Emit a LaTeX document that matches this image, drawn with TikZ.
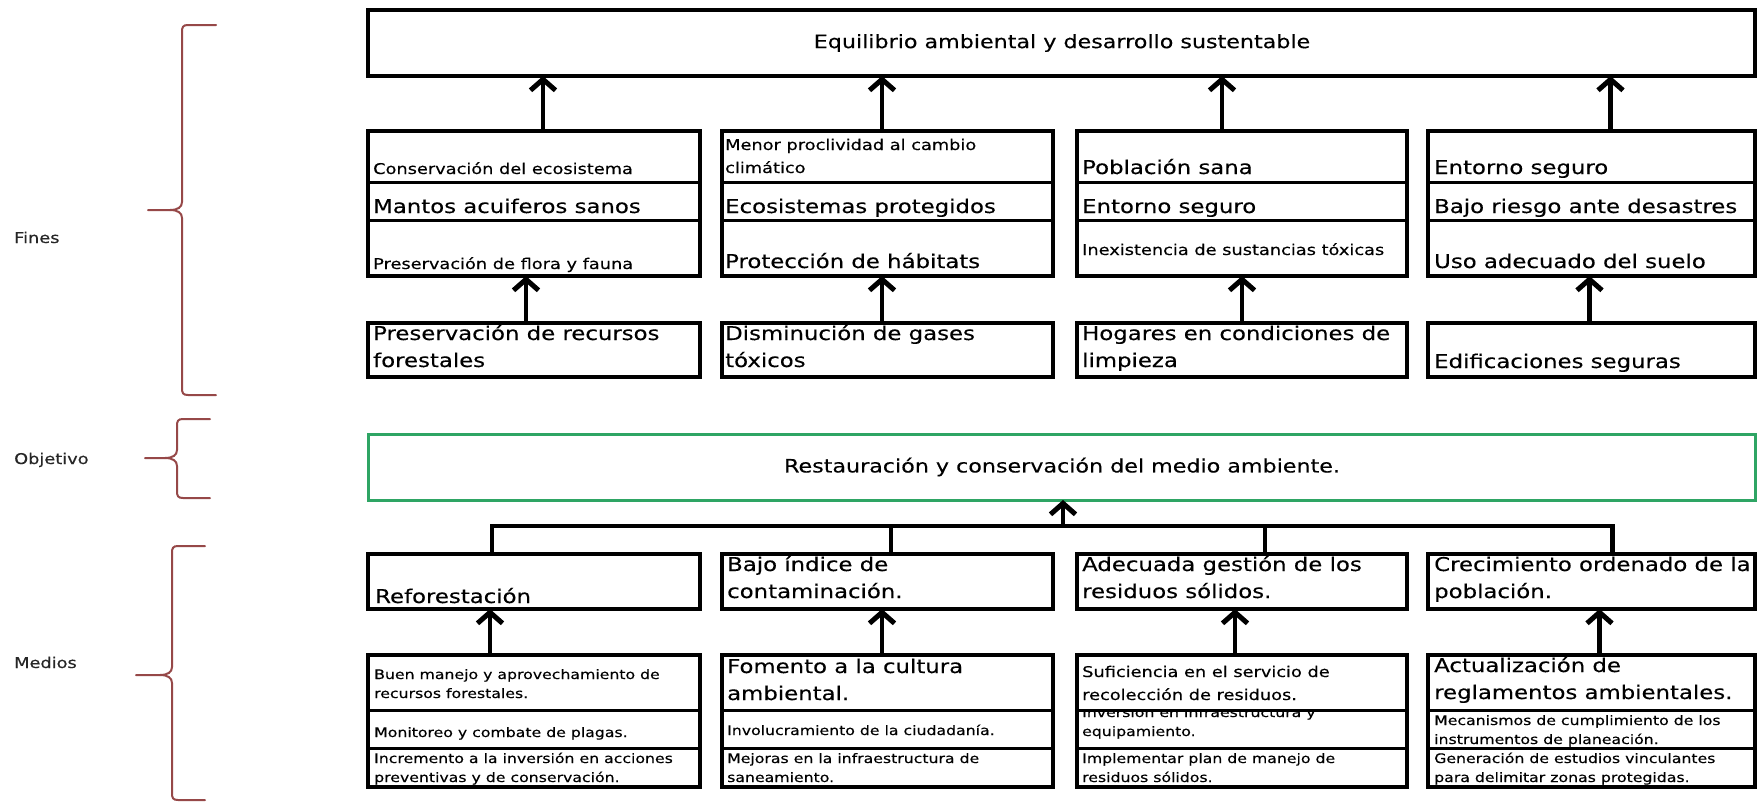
\documentclass[tikz,border=0pt]{standalone}
\usepackage{fontspec}
\setmainfont{DejaVu Sans}[FakeStretch=1.2,FakeBold=0.3]
\usetikzlibrary{arrows.meta}
\definecolor{brk}{RGB}{150,72,72}
\definecolor{objgreen}{RGB}{46,165,100}
\newcommand{\txL}{\fontsize{19}{27}\selectfont}
\newcommand{\txM}{\fontsize{14.8}{23}\selectfont}
\newcommand{\txS}{\fontsize{13.1}{19}\selectfont}
\newcommand{\txH}{\fontsize{18.5}{22}\selectfont}
\newcommand{\twoL}[2]{\vtop{\hbox{#1}\hbox{#2}}}
\newcommand{\curlyB}[6]{%
 \draw[brace] (#6,#2) -- (#1+6,#2) .. controls (#1+1,#2) and (#1,#2+2) .. (#1,#2+7) -- (#1,#4-8) .. controls (#1,#4-3) and (#1-4,#4) .. (#1-12,#4) -- (#5,#4);
 \draw[brace] (#1-12,#4) .. controls (#1-4,#4) and (#1,#4+3) .. (#1,#4+8) -- (#1,#3-7) .. controls (#1,#3-2) and (#1+1,#3) .. (#1+6,#3) -- (#6,#3);}
\tikzset{
 frame/.style={draw=black, line width=4.5pt, rectangle, inner sep=0pt, outer sep=0pt, anchor=north west},
 rowbox/.style={draw=black, line width=3pt, rectangle, inner sep=0pt, outer sep=0pt, anchor=north west},
 txt/.style={anchor=base west, inner sep=0pt},
 arr/.style={line width=4.5pt, -{Straight Barb[length=11pt,width=25pt,line width=5pt]}},
 conn/.style={line width=4.5pt, line join=miter},
 brace/.style={draw=brk, line width=2pt, line cap=round},
 lbl/.style={anchor=base west, inner sep=0pt, font=\fontsize{14.8}{18}\selectfont, text=black!85}
}
\begin{document}
\begin{tikzpicture}[x=1pt,y=-1pt]
\useasboundingbox (0,0) rectangle (1758,803);
\fill[white] (0,0) rectangle (1758,803);

% ---------- side labels and braces ----------
\node[lbl] (lfines) at (14,243) {Fines};
\node[lbl] (lobj) at (14,464) {Objetivo};
\node[lbl] (lmed) at (14,668) {Medios};
\curlyB{182}{25}{395}{210}{148}{216}
\curlyB{177}{419}{498}{458}{145}{210}
\curlyB{172}{546}{800}{675}{136}{205}

% ---------- texts ----------
\node[font=\txH, inner sep=0pt] (ttop) at (1062,43) {Equilibrio ambiental y desarrollo sustentable};
\node[font=\txH, inner sep=0pt] (tobj) at (1062,467) {Restauración y conservación del medio ambiente.};

% Fines, upper stacks
\node[txt, font=\txM] (t11) at (373,174) {Conservación del ecosistema};
\node[txt, font=\txL] (t12) at (373,213) {Mantos acuiferos sanos};
\node[txt, font=\txM] (t13) at (373,269) {Preservación de flora y fauna};
\node[txt, font=\txM] (t21) at (725,150) {\twoL{Menor proclividad al cambio}{climático}};
\node[txt, font=\txL] (t22) at (725,213) {Ecosistemas protegidos};
\node[txt, font=\txL] (t23) at (725,268) {Protección de hábitats};
\node[txt, font=\txL] (t31) at (1082,174) {Población sana};
\node[txt, font=\txL] (t32) at (1082,213) {Entorno seguro};
\node[txt, font=\txM] (t33) at (1082,255) {Inexistencia de sustancias tóxicas};
\node[txt, font=\txL] (t41) at (1434,174) {Entorno seguro};
\node[txt, font=\txL] (t42) at (1434,213) {Bajo riesgo ante desastres};
\node[txt, font=\txL] (t43) at (1434,268) {Uso adecuado del suelo};
% Fines, lower boxes
\node[txt, font=\txL] (t14) at (373,340) {\twoL{Preservación de recursos}{forestales}};
\node[txt, font=\txL] (t24) at (725,340) {\twoL{Disminución de gases}{tóxicos}};
\node[txt, font=\txL] (t34) at (1082,340) {\twoL{Hogares en condiciones de}{limpieza}};
\node[txt, font=\txL] (t44) at (1434,368) {Edificaciones seguras};

% Medios, upper boxes
\node[txt, font=\txL] (m10) at (375,603) {Reforestación};
\node[txt, font=\txL] (m20) at (727,571) {\twoL{Bajo índice de}{contaminación.}};
\node[txt, font=\txL] (m30) at (1082,571) {\twoL{Adecuada gestión de los}{residuos sólidos.}};
\node[txt, font=\txL] (m40) at (1434,571) {\twoL{Crecimiento ordenado de la}{población.}};
% Medios, lower stacks
\node[txt, font=\txS] (m11) at (374,679) {\twoL{Buen manejo y aprovechamiento de}{recursos forestales.}};
\node[txt, font=\txS] (m12) at (374,737) {Monitoreo y combate de plagas.};
\node[txt, font=\txS] (m13) at (374,763) {\twoL{Incremento a la inversión en acciones}{preventivas y de conservación.}};
\node[txt, font=\txL] (m21) at (727,673) {\twoL{Fomento a la cultura}{ambiental.}};
\node[txt, font=\txS] (m22) at (727,735) {Involucramiento de la ciudadanía.};
\node[txt, font=\txS] (m23) at (727,763) {\twoL{Mejoras en la infraestructura de}{saneamiento.}};
\node[txt, font=\txM] (m31) at (1082,677) {\twoL{Suficiencia en el servicio de}{recolección de residuos.}};
\begin{scope}
\clip (1077,712) rectangle (1407,748);
\node[txt, font=\txS] (m32) at (1082,717) {\twoL{Inversión en infraestructura y}{equipamiento.}};
\end{scope}
\node[txt, font=\txS] (m33) at (1082,763) {\twoL{Implementar plan de manejo de}{residuos sólidos.}};
\node[txt, font=\txL] (m41) at (1434,672) {\twoL{Actualización de}{reglamentos ambientales.}};
\node[txt, font=\txS] (m42) at (1434,725) {\twoL{Mecanismos de cumplimiento de los}{instrumentos de planeación.}};
\node[txt, font=\txS] (m43) at (1434,763) {\twoL{Generación de estudios vinculantes}{para delimitar zonas protegidas.}};

% ---------- boxes ----------
\node[frame, minimum width=1387pt, minimum height=66pt] (top) at (368,10) {};
\node[draw=objgreen, line width=3pt, rectangle, inner sep=0pt, outer sep=0pt, anchor=north west,
      minimum width=1387pt, minimum height=66pt] (obj) at (368,434) {};

\foreach \n/\x/\w in {1/368/332, 2/722/331, 3/1077/330, 4/1428/327}{
  % Fines upper stack
  \node[rowbox, minimum width=\w pt, minimum height=51pt] (fu\n a) at (\x,131) {};
  \node[rowbox, minimum width=\w pt, minimum height=38pt] (fu\n b) at (\x,182) {};
  \node[rowbox, minimum width=\w pt, minimum height=56pt] (fu\n c) at (\x,220) {};
  \node[frame, minimum width=\w pt, minimum height=145pt] (fu\n) at (\x,131) {};
  % Fines lower box
  \node[frame, minimum width=\w pt, minimum height=54pt] (fl\n) at (\x,323) {};
  % Medios upper box
  \node[frame, minimum width=\w pt, minimum height=55pt] (mu\n) at (\x,554) {};
  % Medios lower stack
  \node[rowbox, minimum width=\w pt, minimum height=55pt] (ml\n a) at (\x,655) {};
  \node[rowbox, minimum width=\w pt, minimum height=38pt] (ml\n b) at (\x,710) {};
  \node[rowbox, minimum width=\w pt, minimum height=39pt] (ml\n c) at (\x,748) {};
  \node[frame, minimum width=\w pt, minimum height=132pt] (ml\n) at (\x,655) {};
}

% ---------- connectors ----------
% Fines lower -> Fines upper
\draw[arr] ([xshift=-8pt]fl1.north) -- ([xshift=-8pt]fu1.south);
\draw[arr] ([xshift=-5.5pt]fl2.north) -- ([xshift=-5.5pt]fu2.south);
\draw[arr] (fl3.north) -- (fu3.south);
\draw[arr] ([xshift=-2pt]fl4.north) -- ([xshift=-2pt]fu4.south);
% Fines upper -> top
\draw[arr] ([xshift=9pt]fu1.north) -- ([xshift=9pt]fu1.north |- top.south);
\draw[arr] ([xshift=-5.5pt]fu2.north) -- ([xshift=-5.5pt]fu2.north |- top.south);
\draw[arr] ([xshift=-20pt]fu3.north) -- ([xshift=-20pt]fu3.north |- top.south);
\draw[arr] ([xshift=19pt]fu4.north) -- ([xshift=19pt]fu4.north |- top.south);
% Medios lower -> Medios upper
\draw[arr] ([xshift=-44pt]ml1.north) -- ([xshift=-44pt]mu1.south);
\draw[arr] ([xshift=-5.5pt]ml2.north) -- ([xshift=-5.5pt]mu2.south);
\draw[arr] ([xshift=-7pt]ml3.north) -- ([xshift=-7pt]mu3.south);
\draw[arr] ([xshift=8pt]ml4.north) -- ([xshift=8pt]mu4.south);
% Medios upper -> objective (bus)
\coordinate (bus) at (1063,526);
\draw[conn] ([xshift=-42pt]mu1.north) -- ([xshift=-42pt]mu1.north |- bus) -- ([xshift=21pt]mu4.north |- bus) -- ([xshift=21pt]mu4.north);
\draw[conn] ([xshift=3.5pt]mu2.north) -- ([xshift=3.5pt]mu2.north |- bus);
\draw[conn] ([xshift=23pt]mu3.north) -- ([xshift=23pt]mu3.north |- bus);
\draw[arr] (bus) -- (bus |- obj.south);
\end{tikzpicture}
\end{document}
